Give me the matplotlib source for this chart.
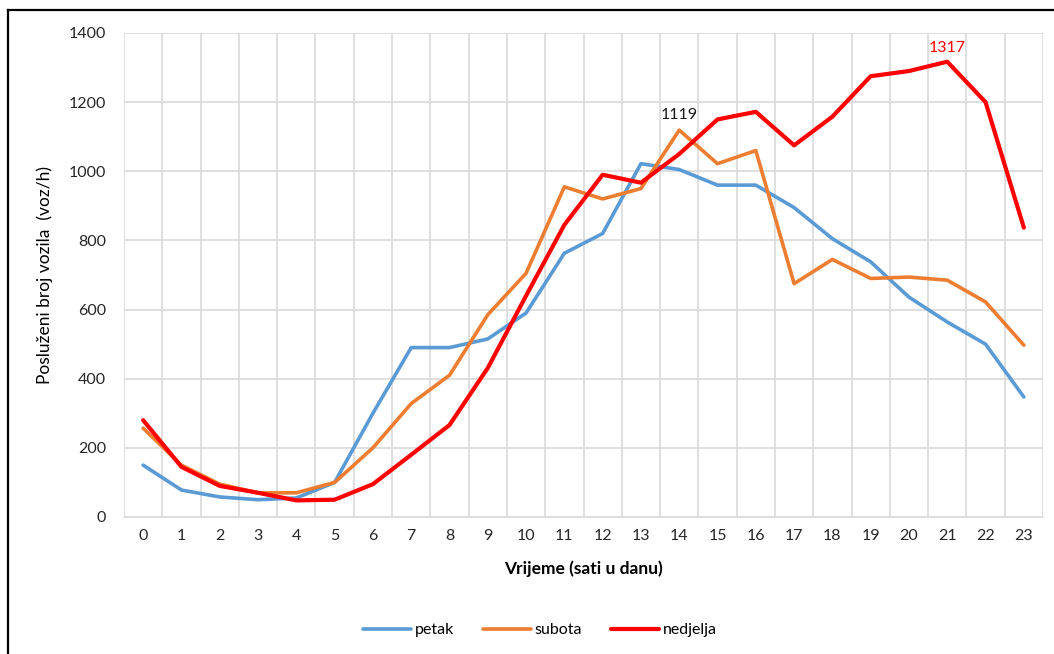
import matplotlib.pyplot as plt
from matplotlib.lines import Line2D

plt.rcParams['font.family'] = ['Lato', 'DejaVu Sans']

sati = list(range(24))
petak = [150, 78, 58, 50, 55, 100, 300, 490, 490, 515, 590, 763, 820, 1022, 1005,
         960, 960, 895, 805, 738, 636, 564, 500, 347]
subota = [257, 150, 95, 70, 70, 100, 200, 328, 410, 585, 705, 955, 920, 950, 1119,
          1022, 1060, 675, 745, 690, 694, 685, 622, 497]
nedjelja = [280, 145, 90, 70, 48, 50, 95, 180, 266, 431, 640, 845, 990, 967, 1050,
            1150, 1172, 1075, 1158, 1275, 1290, 1317, 1200, 837]

fig = plt.figure(figsize=(10.54, 6.54), dpi=100)
ax = fig.add_axes([124 / 1054, 1 - 517 / 654, 919 / 1054, 484 / 654])

ax.plot(sati, petak, color='#5b9bd5', lw=2.6, label='petak', solid_capstyle='round')
ax.plot(sati, subota, color='#ed7d31', lw=2.6, label='subota', solid_capstyle='round')
ax.plot(sati, nedjelja, color='#ff0000', lw=3.0, label='nedjelja', solid_capstyle='round')

# oznake vrhova
ax.annotate(str(subota[14]), (14, subota[14]), xytext=(0, 6), textcoords='offset points',
            ha='center', va='bottom', fontsize=11.5, color='#1a1a1a')
ax.annotate(str(nedjelja[21]), (21, nedjelja[21]), xytext=(0, 5), textcoords='offset points',
            ha='center', va='bottom', fontsize=11.5, color='#ff0000')

ax.set_xlim(-0.5, 23.5)
ax.set_ylim(0, 1400)
ax.set_yticks(range(0, 1401, 200))
ax.set_xticks(sati)
ax.set_xticks([x - 0.5 for x in range(25)], minor=True)
ax.grid(True, which='major', axis='y', color='#d9d9d9', lw=1.2)
ax.grid(True, which='minor', axis='x', color='#d9d9d9', lw=1.2)
ax.set_axisbelow(True)
ax.tick_params(which='both', length=0, labelsize=11.5, colors='#262626')
ax.tick_params(axis='x', pad=9)
ax.tick_params(axis='y', pad=13)
for s in ax.spines.values():
    s.set_visible(False)
ax.spines['bottom'].set_visible(True)
ax.spines['bottom'].set_color('#d9d9d9')
ax.spines['bottom'].set_linewidth(1.2)

ax.set_xlabel('Vrijeme (sati u danu)', fontsize=12.5, fontweight='bold', labelpad=12)
ax.set_ylabel('Posluženi broj vozila  (voz/h)', fontsize=12.5, labelpad=11)

fig.legend(loc='center', bbox_to_anchor=(540 / 1054, 1 - 630 / 654), ncol=3,
           frameon=False, fontsize=11.5, handlelength=3.0, columnspacing=1.8,
           handletextpad=0.25)

# okvir slike
fig.add_artist(Line2D([7.5 / 1054, 1], [1 - 9.5 / 654] * 2, color='black', lw=1.6))
fig.add_artist(Line2D([7.5 / 1054] * 2, [0, 1 - 9.5 / 654], color='black', lw=1.6))

fig.savefig('out.png', dpi=100)
